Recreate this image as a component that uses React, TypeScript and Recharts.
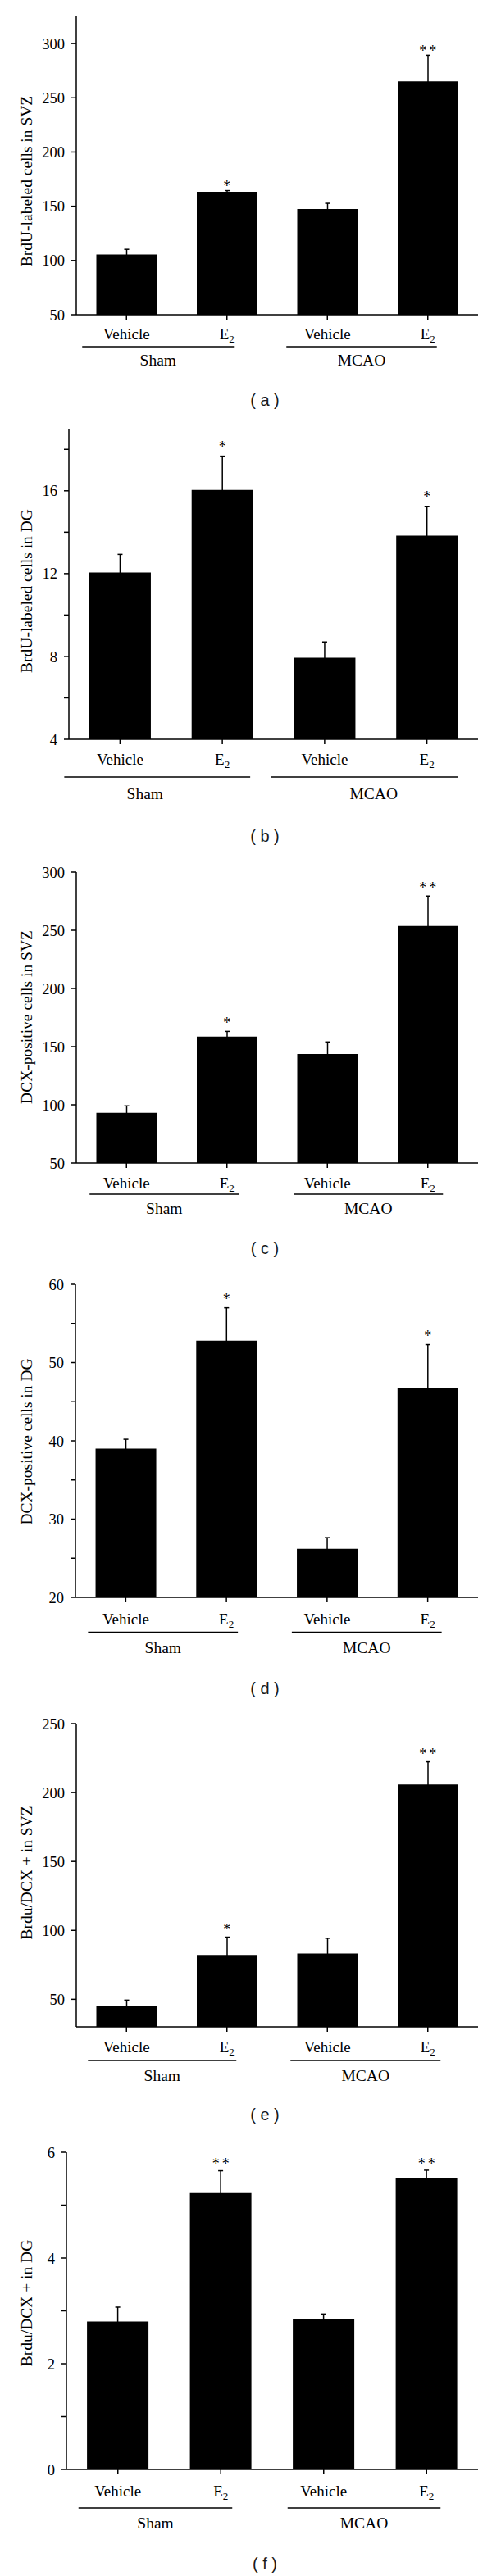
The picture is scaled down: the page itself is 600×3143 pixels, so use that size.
import React from 'react';
import { ComposedChart, Bar, ErrorBar, Scatter, XAxis, YAxis } from 'recharts';

const SERIF = '"Liberation Serif", "Times New Roman", serif';
const SANS = '"Liberation Sans", Arial, sans-serif';

const groups = ['Sham', 'MCAO'];
const treatments = ['Vehicle', 'E2'];
const ids = ['sham-vehicle', 'sham-e2', 'mcao-vehicle', 'mcao-e2'];

// (a) BrdU-labeled cells in SVZ
const brduSvzMean = [105.5, 163.4, 147.5, 265.1];
const brduSvzSem = [4.8, 1.0, 5.2, 24.1];
const brduSvzStars = ['', '*', '', '**'];

// (b) BrdU-labeled cells in DG
const brduDgMean = [12.05, 16.04, 7.94, 13.84];
const brduDgSem = [0.88, 1.63, 0.76, 1.41];
const brduDgStars = ['', '*', '', '*'];

// (c) DCX-positive cells in SVZ
const dcxSvzMean = [93.1, 158.6, 143.7, 253.7];
const dcxSvzSem = [6.0, 4.5, 10.3, 25.7];
const dcxSvzStars = ['', '*', '', '**'];

// (d) DCX-positive cells in DG
const dcxDgMean = [39.0, 52.8, 26.2, 46.75];
const dcxDgSem = [1.2, 4.2, 1.43, 5.55];
const dcxDgStars = ['', '*', '', '*'];

// (e) Brdu/DCX + in SVZ
const dblSvzMean = [45.4, 82.2, 83.2, 205.9];
const dblSvzSem = [4.0, 12.9, 11.1, 16.4];
const dblSvzStars = ['', '*', '', '**'];

// (f) Brdu/DCX + in DG
const dblDgMean = [2.8, 5.23, 2.84, 5.51];
const dblDgSem = [0.27, 0.42, 0.1, 0.15];
const dblDgStars = ['', '**', '', '**'];

const PLOT_RIGHT = 583;
const MARGIN_TOP = 10;
const X_AXIS_H = 90;

const panels = [
  {
    tag: 'a', yLabel: 'BrdU-labeled cells in SVZ', mean: brduSvzMean, sem: brduSvzSem, stars: brduSvzStars,
    domain: [50, 325], ticks: [50, 100, 150, 200, 250, 300], labeled: [50, 100, 150, 200, 250, 300],
    plotTop: 20, plotBottom: 384, axisX: 93, starGap: 9,
    vehDy: 30, lineDy: 39, groupDy: 62, sham: [-54, 8.5], mcao: [-50, 11], shamDx: 0, mcaoDx: 0,
    labelY: 221, captionY: 488,
  },
  {
    tag: 'b', yLabel: 'BrdU-labeled cells in DG', mean: brduDgMean, sem: brduDgSem, stars: brduDgStars,
    domain: [4, 19], ticks: [4, 6, 8, 10, 12, 14, 16, 18], labeled: [4, 8, 12, 16],
    plotTop: 523, plotBottom: 902, axisX: 84, starGap: 15,
    vehDy: 31, lineDy: 46, groupDy: 73, sham: [-68, 34], mcao: [-65, 38], shamDx: -15, mcaoDx: 11,
    labelY: 721, captionY: 1020,
  },
  {
    tag: 'c', yLabel: 'DCX-positive cells in SVZ', mean: dcxSvzMean, sem: dcxSvzSem, stars: dcxSvzStars,
    domain: [50, 300], ticks: [50, 100, 150, 200, 250, 300], labeled: [50, 100, 150, 200, 250, 300],
    plotTop: 1064, plotBottom: 1419, axisX: 93, starGap: 14,
    vehDy: 31, lineDy: 38, groupDy: 62, sham: [-45, 14.5], mcao: [-41, 18.5], shamDx: 0, mcaoDx: 0,
    labelY: 1241, captionY: 1523,
  },
  {
    tag: 'd', yLabel: 'DCX-positive cells in DG', mean: dcxDgMean, sem: dcxDgSem, stars: dcxDgStars,
    domain: [20, 60], ticks: [20, 25, 30, 35, 40, 45, 50, 55, 60], labeled: [20, 30, 40, 50, 60],
    plotTop: 1567, plotBottom: 1949, axisX: 92, starGap: 14,
    vehDy: 33, lineDy: 42.5, groupDy: 68, sham: [-46, 14], mcao: [-43, 17], shamDx: 0, mcaoDx: 0,
    labelY: 1759, captionY: 2060,
  },
  {
    tag: 'e', yLabel: 'Brdu/DCX + in SVZ', mean: dblSvzMean, sem: dblSvzSem, stars: dblSvzStars,
    domain: [30, 250], ticks: [50, 100, 150, 200, 250], labeled: [50, 100, 150, 200, 250],
    plotTop: 2103, plotBottom: 2473, axisX: 93, starGap: 13,
    vehDy: 31, lineDy: 41, groupDy: 66, sham: [-47, 11.5], mcao: [-45, 15.5], shamDx: 0, mcaoDx: 0,
    labelY: 2285, captionY: 2580,
  },
  {
    tag: 'f', yLabel: 'Brdu/DCX + in DG', mean: dblDgMean, sem: dblDgSem, stars: dblDgStars,
    domain: [0, 6], ticks: [0, 1, 2, 3, 4, 5, 6], labeled: [0, 2, 4, 6],
    plotTop: 2626, plotBottom: 3013, axisX: 81, starGap: 12,
    vehDy: 33, lineDy: 47, groupDy: 72, sham: [-48, 14], mcao: [-44, 17], shamDx: 0, mcaoDx: 0,
    labelY: 2810, captionY: 3128,
  },
];

const XTick = ({ x, y, payload, p }: any) => {
  const i = ids.indexOf(payload.value);
  const axisY = y - 6;
  const band = (PLOT_RIGHT - p.axisX) / 4;
  const label = treatments[i % 2];
  let group = null;
  if (i % 2 === 0) {
    const [l, r] = i === 0 ? p.sham : p.mcao;
    const dx = i === 0 ? p.shamDx : p.mcaoDx;
    const x1 = x + l;
    const x2 = x + band + r;
    group = (
      <g>
        <line x1={x1} x2={x2} y1={axisY + p.lineDy} y2={axisY + p.lineDy} stroke="#000" strokeWidth={1.4} />
        <text x={(x1 + x2) / 2 + dx} y={axisY + p.groupDy} textAnchor="middle" fontFamily={SERIF} fontSize={19.5} fill="#000">
          {groups[i / 2]}
        </text>
      </g>
    );
  }
  return (
    <g>
      <text x={x} y={axisY + p.vehDy} textAnchor="middle" fontFamily={SERIF} fontSize={19} fill="#000">
        {label === 'E2' ? (
          <>
            E<tspan dy={4} fontSize={13}>2</tspan>
          </>
        ) : (
          label
        )}
      </text>
      {group}
    </g>
  );
};

const StarMark = ({ cx, cy, payload, gap }: any) => {
  if (!payload || !payload.star) return null;
  const two = payload.star.length > 1;
  return (
    <text
      x={cx + (two ? 1.5 : 0)}
      y={cy - gap + 9.7}
      textAnchor="middle"
      fontFamily={SERIF}
      fontSize={18}
      letterSpacing={two ? 3 : 0}
      fill="#000"
    >
      {payload.star}
    </text>
  );
};

const Panel = ({ p }: any) => {
  const data = ids.map((id, i) => ({
    id,
    mean: p.mean[i],
    sem: p.sem[i],
    top: p.mean[i] + p.sem[i],
    star: p.stars[i],
  }));
  const h = p.plotBottom - p.plotTop + MARGIN_TOP + X_AXIS_H;
  return (
    <div style={{ position: 'absolute', left: 0, top: p.plotTop - MARGIN_TOP }}>
      <ComposedChart
        width={600}
        height={h}
        data={data}
        margin={{ top: MARGIN_TOP, right: 600 - PLOT_RIGHT, bottom: 0, left: 0 }}
        barCategoryGap="20%"
      >
        <XAxis
          dataKey="id"
          interval={0}
          height={X_AXIS_H}
          tickSize={6}
          tickMargin={0}
          axisLine={{ stroke: '#000', strokeWidth: 1.5 }}
          tickLine={{ stroke: '#000', strokeWidth: 1.5 }}
          tick={(props: any) => <XTick {...props} p={p} />}
        />
        <YAxis
          type="number"
          domain={p.domain}
          ticks={p.ticks}
          interval={0}
          width={p.axisX}
          tickSize={6}
          tickMargin={8}
          tickFormatter={(v: number) => (p.labeled.includes(v) ? String(v) : '')}
          axisLine={{ stroke: '#000', strokeWidth: 1.5 }}
          tickLine={{ stroke: '#000', strokeWidth: 1.5 }}
          tick={{ fill: '#000', fontSize: 18.5, fontFamily: SERIF }}
        />
        <Bar dataKey="mean" fill="#000" isAnimationActive={false}>
          <ErrorBar dataKey="sem" width={3} stroke="#000" strokeWidth={1.5} direction="y" />
        </Bar>
        <Scatter
          dataKey="top"
          isAnimationActive={false}
          shape={(s: any) => <StarMark {...s} gap={p.starGap} />}
        />
      </ComposedChart>
    </div>
  );
};

export default function App() {
  return (
    <div style={{ position: 'relative', width: 600, height: 3143, background: '#fff', overflow: 'hidden' }}>
      <style>{'body{margin:0;background:#fff}'}</style>
      {panels.map((p) => (
        <Panel key={p.tag} p={p} />
      ))}
      <svg width={600} height={3143} style={{ position: 'absolute', left: 0, top: 0, pointerEvents: 'none' }}>
        {panels.map((p) => (
          <g key={p.tag}>
            <text
              x={32}
              y={p.labelY}
              transform={`rotate(-90, 32, ${p.labelY})`}
              textAnchor="middle"
              dominantBaseline="central"
              fontFamily={SERIF}
              fontSize={19.5}
              fill="#000"
            >
              {p.yLabel}
            </text>
            <text
              x={323}
              y={p.captionY}
              textAnchor="middle"
              dominantBaseline="central"
              fontFamily={SANS}
              fontSize={20}
              fill="#1a1a1a"
            >
              {`( ${p.tag} )`}
            </text>
          </g>
        ))}
      </svg>
    </div>
  );
}
